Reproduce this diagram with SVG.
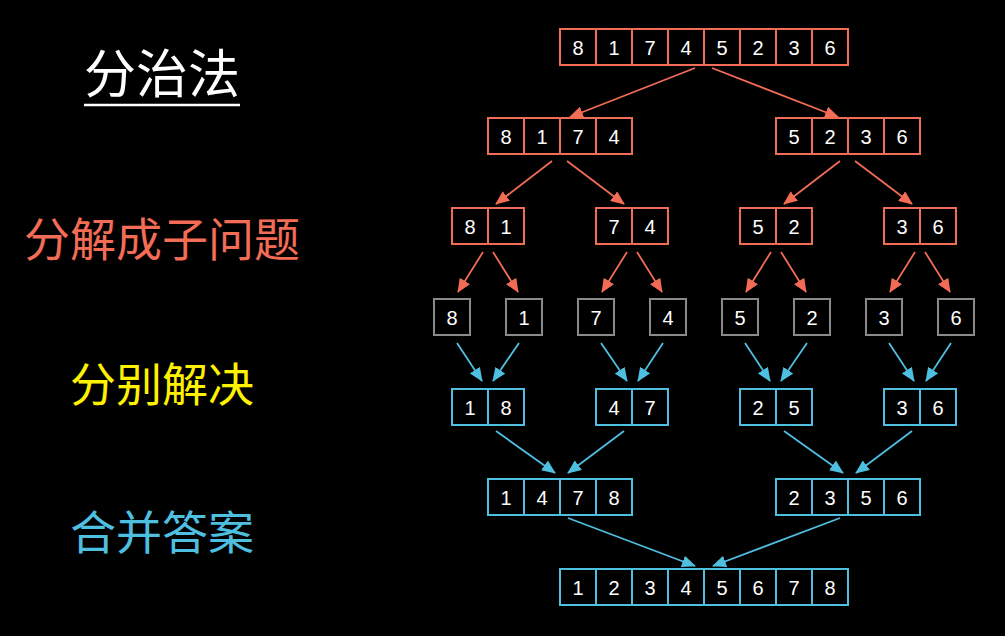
<svg xmlns="http://www.w3.org/2000/svg" width="1005" height="636" viewBox="0 0 1005 636">
<style>
.bg{fill:#000}
.box{fill:none;stroke-width:2}
.o{stroke:#f26c56}
.g{stroke:#8a8a8a}
.b{stroke:#4fbfe0}
.n{font-family:"Liberation Sans","DejaVu Sans",sans-serif;font-size:20px;fill:#fff;text-anchor:middle}
.lbl{font-family:"Noto Sans CJK SC","Noto Sans",sans-serif;text-anchor:middle;font-size:46px}
.ao{stroke:#f26c56;stroke-width:1.8;fill:none;marker-end:url(#mo)}
.ab{stroke:#4fbfe0;stroke-width:1.8;fill:none;marker-end:url(#mb)}
</style>
<defs>
<marker id="mo" markerUnits="userSpaceOnUse" markerWidth="14" markerHeight="12" viewBox="0 0 14 12" refX="13" refY="6" orient="auto"><path d="M0,0 L14,6 L0,12 z" fill="#f26c56"/></marker>
<marker id="mb" markerUnits="userSpaceOnUse" markerWidth="14" markerHeight="12" viewBox="0 0 14 12" refX="13" refY="6" orient="auto"><path d="M0,0 L14,6 L0,12 z" fill="#4fbfe0"/></marker>
</defs>
<rect class="bg" x="0" y="0" width="1005" height="636"/>

<g id="labels">
<text id="title" class="lbl" x="162" y="93" font-size="52" style="font-size:52px" fill="#fff">分治法</text>
<line x1="84" y1="105" x2="240" y2="105" stroke="#fff" stroke-width="2.5"/>
<text id="lbl-split" class="lbl" x="162" y="256" fill="#f26c56">分解成子问题</text>
<text id="lbl-solve" class="lbl" x="162" y="401" fill="#fff200">分别解决</text>
<text id="lbl-merge" class="lbl" x="162" y="549" fill="#4fbfe0">合并答案</text>
</g>

<g id="connectors">
<line class="ao" x1="695" y1="68" x2="570" y2="117"/>
<line class="ao" x1="712" y1="68" x2="838" y2="117"/>
<line class="ao" x1="552" y1="161" x2="496" y2="204"/>
<line class="ao" x1="567" y1="161" x2="624" y2="204"/>
<line class="ao" x1="840" y1="161" x2="784" y2="204"/>
<line class="ao" x1="855" y1="161" x2="912" y2="204"/>
<line class="ao" x1="483" y1="252" x2="458" y2="292"/>
<line class="ao" x1="493" y1="252" x2="518" y2="292"/>
<line class="ao" x1="627" y1="252" x2="602" y2="292"/>
<line class="ao" x1="637" y1="252" x2="662" y2="292"/>
<line class="ao" x1="771" y1="252" x2="746" y2="292"/>
<line class="ao" x1="781" y1="252" x2="806" y2="292"/>
<line class="ao" x1="915" y1="252" x2="890" y2="292"/>
<line class="ao" x1="925" y1="252" x2="950" y2="292"/>
<line class="ab" x1="457" y1="343" x2="482" y2="381"/>
<line class="ab" x1="519" y1="343" x2="493" y2="381"/>
<line class="ab" x1="601" y1="343" x2="627" y2="381"/>
<line class="ab" x1="663" y1="343" x2="638" y2="381"/>
<line class="ab" x1="745" y1="343" x2="770" y2="381"/>
<line class="ab" x1="807" y1="343" x2="781" y2="381"/>
<line class="ab" x1="889" y1="343" x2="914" y2="381"/>
<line class="ab" x1="951" y1="343" x2="926" y2="381"/>
<line class="ab" x1="496" y1="431" x2="555" y2="473"/>
<line class="ab" x1="624" y1="431" x2="568" y2="473"/>
<line class="ab" x1="784" y1="431" x2="843" y2="473"/>
<line class="ab" x1="912" y1="431" x2="856" y2="473"/>
<line class="ab" x1="568" y1="518" x2="695" y2="566"/>
<line class="ab" x1="840" y1="518" x2="713" y2="566"/>
</g>

<g id="r1">
<rect class="box o" x="560" y="29" width="288" height="36"/>
<path class="box o" d="M596,29V65M632,29V65M668,29V65M704,29V65M740,29V65M776,29V65M812,29V65"/>
<text class="n" y="55"><tspan x="578">8</tspan><tspan x="614">1</tspan><tspan x="650">7</tspan><tspan x="686">4</tspan><tspan x="722">5</tspan><tspan x="758">2</tspan><tspan x="794">3</tspan><tspan x="830">6</tspan></text>
</g>

<g id="r2a">
<rect class="box o" x="488" y="118" width="144" height="36"/>
<path class="box o" d="M524,118V154M560,118V154M596,118V154"/>
<text class="n" y="144"><tspan x="506">8</tspan><tspan x="542">1</tspan><tspan x="578">7</tspan><tspan x="614">4</tspan></text>
</g>
<g id="r2b">
<rect class="box o" x="776" y="118" width="144" height="36"/>
<path class="box o" d="M812,118V154M848,118V154M884,118V154"/>
<text class="n" y="144"><tspan x="794">5</tspan><tspan x="830">2</tspan><tspan x="866">3</tspan><tspan x="902">6</tspan></text>
</g>

<g id="r3a"><rect class="box o" x="452" y="208" width="72" height="36"/><path class="box o" d="M488,208V244"/><text class="n" y="234"><tspan x="470">8</tspan><tspan x="506">1</tspan></text></g>
<g id="r3b"><rect class="box o" x="596" y="208" width="72" height="36"/><path class="box o" d="M632,208V244"/><text class="n" y="234"><tspan x="614">7</tspan><tspan x="650">4</tspan></text></g>
<g id="r3c"><rect class="box o" x="740" y="208" width="72" height="36"/><path class="box o" d="M776,208V244"/><text class="n" y="234"><tspan x="758">5</tspan><tspan x="794">2</tspan></text></g>
<g id="r3d"><rect class="box o" x="884" y="208" width="72" height="36"/><path class="box o" d="M920,208V244"/><text class="n" y="234"><tspan x="902">3</tspan><tspan x="938">6</tspan></text></g>

<g id="r4a"><rect class="box g" x="434" y="299" width="36" height="36"/><text class="n" x="452" y="325">8</text></g>
<g id="r4b"><rect class="box g" x="506" y="299" width="36" height="36"/><text class="n" x="524" y="325">1</text></g>
<g id="r4c"><rect class="box g" x="578" y="299" width="36" height="36"/><text class="n" x="596" y="325">7</text></g>
<g id="r4d"><rect class="box g" x="650" y="299" width="36" height="36"/><text class="n" x="668" y="325">4</text></g>
<g id="r4e"><rect class="box g" x="722" y="299" width="36" height="36"/><text class="n" x="740" y="325">5</text></g>
<g id="r4f"><rect class="box g" x="794" y="299" width="36" height="36"/><text class="n" x="812" y="325">2</text></g>
<g id="r4g"><rect class="box g" x="866" y="299" width="36" height="36"/><text class="n" x="884" y="325">3</text></g>
<g id="r4h"><rect class="box g" x="938" y="299" width="36" height="36"/><text class="n" x="956" y="325">6</text></g>

<g id="r5a"><rect class="box b" x="452" y="389" width="72" height="36"/><path class="box b" d="M488,389V425"/><text class="n" y="415"><tspan x="470">1</tspan><tspan x="506">8</tspan></text></g>
<g id="r5b"><rect class="box b" x="596" y="389" width="72" height="36"/><path class="box b" d="M632,389V425"/><text class="n" y="415"><tspan x="614">4</tspan><tspan x="650">7</tspan></text></g>
<g id="r5c"><rect class="box b" x="740" y="389" width="72" height="36"/><path class="box b" d="M776,389V425"/><text class="n" y="415"><tspan x="758">2</tspan><tspan x="794">5</tspan></text></g>
<g id="r5d"><rect class="box b" x="884" y="389" width="72" height="36"/><path class="box b" d="M920,389V425"/><text class="n" y="415"><tspan x="902">3</tspan><tspan x="938">6</tspan></text></g>

<g id="r6a">
<rect class="box b" x="488" y="479" width="144" height="36"/>
<path class="box b" d="M524,479V515M560,479V515M596,479V515"/>
<text class="n" y="505"><tspan x="506">1</tspan><tspan x="542">4</tspan><tspan x="578">7</tspan><tspan x="614">8</tspan></text>
</g>
<g id="r6b">
<rect class="box b" x="776" y="479" width="144" height="36"/>
<path class="box b" d="M812,479V515M848,479V515M884,479V515"/>
<text class="n" y="505"><tspan x="794">2</tspan><tspan x="830">3</tspan><tspan x="866">5</tspan><tspan x="902">6</tspan></text>
</g>

<g id="r7">
<rect class="box b" x="560" y="569" width="288" height="36"/>
<path class="box b" d="M596,569V605M632,569V605M668,569V605M704,569V605M740,569V605M776,569V605M812,569V605"/>
<text class="n" y="595"><tspan x="578">1</tspan><tspan x="614">2</tspan><tspan x="650">3</tspan><tspan x="686">4</tspan><tspan x="722">5</tspan><tspan x="758">6</tspan><tspan x="794">7</tspan><tspan x="830">8</tspan></text>
</g>
</svg>
